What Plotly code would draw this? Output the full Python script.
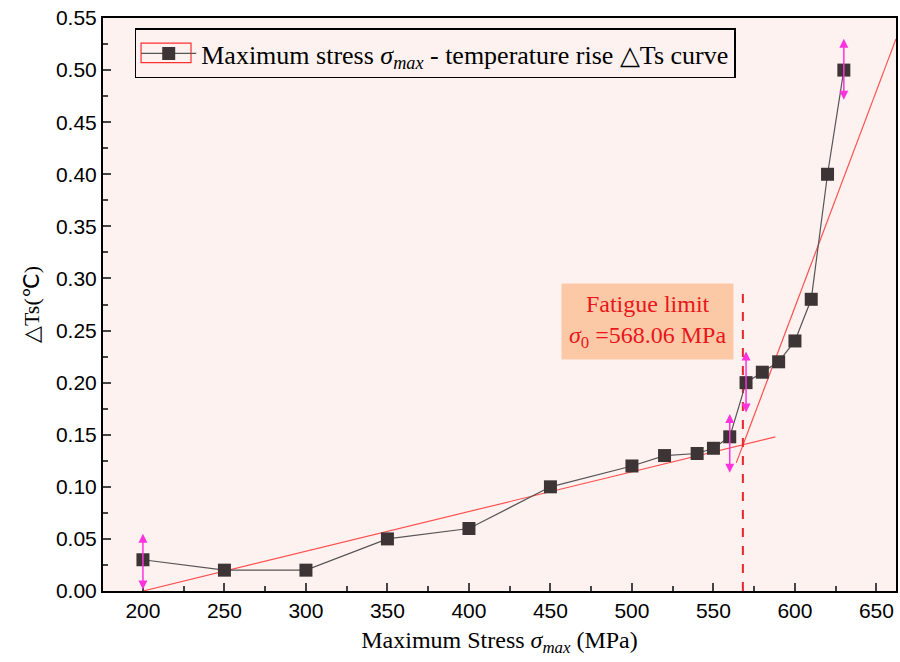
import plotly.graph_objects as go

stress = [200, 250, 300, 350, 400, 450, 500, 520, 540, 550, 560, 570, 580, 590, 600, 610, 620, 630]
dts = [0.03, 0.02, 0.02, 0.05, 0.06, 0.10, 0.12, 0.13, 0.132, 0.137, 0.148, 0.20, 0.21, 0.22, 0.24, 0.28, 0.40, 0.50]

fit1_x = [200, 588]
fit1_y = [0.0, 0.148]
fit2_x = [564, 662]
fit2_y = [0.123, 0.53]

err_x = [200, 560, 570, 630]
err_lo = [0.0, 0.112, 0.17, 0.47]
err_hi = [0.055, 0.17, 0.23, 0.53]

fatigue_limit = 568.06
limit_top = 0.29

xticks = [200, 250, 300, 350, 400, 450, 500, 550, 600, 650]
yticks = [round(0.05 * i, 2) for i in range(12)]

fig = go.Figure()
fig.add_trace(go.Scatter(x=fit1_x, y=fit1_y, mode="lines", line=dict(color="#ff5050", width=1.2), showlegend=False))
fig.add_trace(go.Scatter(x=fit2_x, y=fit2_y, mode="lines", line=dict(color="#ff5050", width=1.2), showlegend=False))
fig.add_trace(go.Scatter(x=[fatigue_limit, fatigue_limit], y=[0, limit_top], mode="lines",
                         line=dict(color="#e8262c", width=2, dash="dash"), showlegend=False))
fig.add_trace(go.Scatter(
    x=stress, y=dts, mode="lines+markers",
    name="Maximum stress <i>σ<sub>max</sub></i> - temperature rise △Ts curve",
    line=dict(color="#555555", width=1.2),
    marker=dict(symbol="square", size=13, color="#3d3535"),
))

for x, lo, hi in zip(err_x, err_lo, err_hi):
    fig.add_annotation(x=x, y=hi, ax=x, ay=lo, xref="x", yref="y", axref="x", ayref="y",
                       showarrow=True, arrowhead=2, arrowside="end+start", arrowsize=1.2,
                       arrowwidth=1.5, arrowcolor="#ff33dd", text="")

fig.add_annotation(x=0.687, y=0.471, xref="paper", yref="paper", xanchor="center", yanchor="middle",
                   text="Fatigue limit<br><i>σ</i><sub>0</sub> =568.06 MPa", showarrow=False,
                   font=dict(family="Liberation Serif", size=24, color="#e8161c"),
                   bgcolor="#fcc9a6", borderpad=7, align="center")

fig.add_shape(type="rect", xref="paper", yref="paper", x0=0.048, x1=0.111, y0=0.922, y1=0.956,
              line=dict(color="#ff3030", width=1.2))

fig.update_layout(
    width=900, height=662,
    margin=dict(l=103, r=2, t=18, b=71),
    paper_bgcolor="white", plot_bgcolor="#fdf2ef",
    font=dict(family="Liberation Sans", size=21, color="black"),
    legend=dict(x=0.04, y=0.9817, xanchor="left", yanchor="top", itemwidth=55,
                bordercolor="black", borderwidth=1.5, bgcolor="rgba(0,0,0,0)",
                font=dict(family="Liberation Serif", size=26)),
    xaxis=dict(range=[175.5, 662], tickvals=xticks, ticks="inside", ticklen=8, tickwidth=1.5,
               showline=True, linecolor="black", linewidth=2, mirror=True, showgrid=False, zeroline=False,
               minor=dict(ticks="inside", ticklen=5, dtick=25, tickwidth=1.5, tick0=200),
               title=dict(text="Maximum Stress <i>σ<sub>max</sub></i> (MPa)",
                          font=dict(family="Liberation Serif", size=24), standoff=10)),
    yaxis=dict(range=[0, 0.55], tickvals=yticks, tickformat=".2f", ticks="inside", ticklen=8, tickwidth=1.5,
               showline=True, linecolor="black", linewidth=2, mirror=True, showgrid=False, zeroline=False,
               minor=dict(ticks="inside", ticklen=5, dtick=0.025, tickwidth=1.5),
               title=dict(text="△Ts(℃)", font=dict(family="Liberation Serif", size=22), standoff=10)),
)

fig.write_html("out.html")
